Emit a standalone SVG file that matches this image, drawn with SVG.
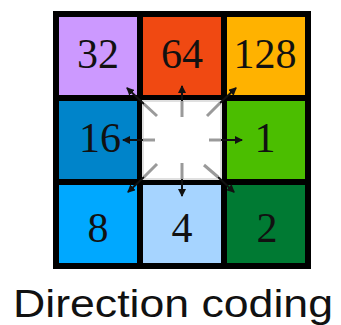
<svg xmlns="http://www.w3.org/2000/svg" width="341" height="325" viewBox="0 0 341 325">
<style>
.num{font-family:"Liberation Serif","Times New Roman",serif;font-size:42px;fill:#111;text-anchor:middle}
.lbl{font-family:"Liberation Sans",Arial,sans-serif;font-size:38px;fill:#111}
.gray{stroke:#9a9a9a;stroke-width:3;fill:none}
.tip{stroke:#111;stroke-width:2;fill:none;marker-end:url(#ah)}
</style>
<defs>
<marker id="ah" markerUnits="userSpaceOnUse" markerWidth="8" markerHeight="8" refX="7" refY="4" orient="auto">
<path d="M0,0 L8,4 L0,8 Z" fill="#111"/>
</marker>
</defs>
<rect x="53" y="11" width="258" height="258" fill="#000"/>
<g id="n32"><rect x="59" y="17" width="78" height="78" fill="#CC99FF"/><text class="num" x="98" y="68">32</text></g>
<g id="n64"><rect x="143" y="17" width="78" height="78" fill="#F04912"/><text class="num" x="182" y="68">64</text></g>
<g id="n128"><rect x="227" y="17" width="78" height="78" fill="#FFB200"/><text class="num" x="265" y="68">128</text></g>
<g id="n16"><rect x="59" y="101" width="78" height="78" fill="#0084CA"/><text class="num" x="100" y="152">16</text></g>
<g id="center"><rect x="143" y="101" width="78" height="78" fill="#fff" stroke="#e0e0e0" stroke-width="2"/></g>
<g id="n1"><rect x="227" y="101" width="78" height="78" fill="#4BBE00"/><text class="num" x="265" y="152">1</text></g>
<g id="n8"><rect x="59" y="185" width="78" height="78" fill="#00A8FF"/><text class="num" x="98" y="242">8</text></g>
<g id="n4"><rect x="143" y="185" width="78" height="78" fill="#A6D4FF"/><text class="num" x="182" y="242">4</text></g>
<g id="n2"><rect x="227" y="185" width="78" height="78" fill="#007A33"/><text class="num" x="267" y="242">2</text></g>
<g id="connectors">
<line class="gray" x1="182" y1="117" x2="182" y2="101"/><line class="tip" x1="182" y1="101" x2="182" y2="86"/>
<line class="gray" x1="182" y1="163" x2="182" y2="179"/><line class="tip" x1="182" y1="179" x2="182" y2="196"/>
<line class="gray" x1="155" y1="140" x2="143" y2="140"/><line class="tip" x1="143" y1="140" x2="123" y2="140"/>
<line class="gray" x1="209" y1="140" x2="221" y2="140"/><line class="tip" x1="221" y1="140" x2="242" y2="140"/>
<line class="gray" x1="157" y1="116" x2="144" y2="104"/><line class="tip" x1="144" y1="104" x2="127" y2="88"/>
<line class="gray" x1="207" y1="116" x2="220" y2="103"/><line class="tip" x1="220" y1="103" x2="236" y2="88"/>
<line class="gray" x1="157" y1="164" x2="144" y2="177"/><line class="tip" x1="144" y1="177" x2="128" y2="192"/>
<line class="gray" x1="204" y1="165" x2="218" y2="177"/><line class="tip" x1="218" y1="177" x2="234" y2="192"/>
</g>
<text class="lbl" x="13" y="317" textLength="320" lengthAdjust="spacingAndGlyphs">Direction coding</text>
</svg>
